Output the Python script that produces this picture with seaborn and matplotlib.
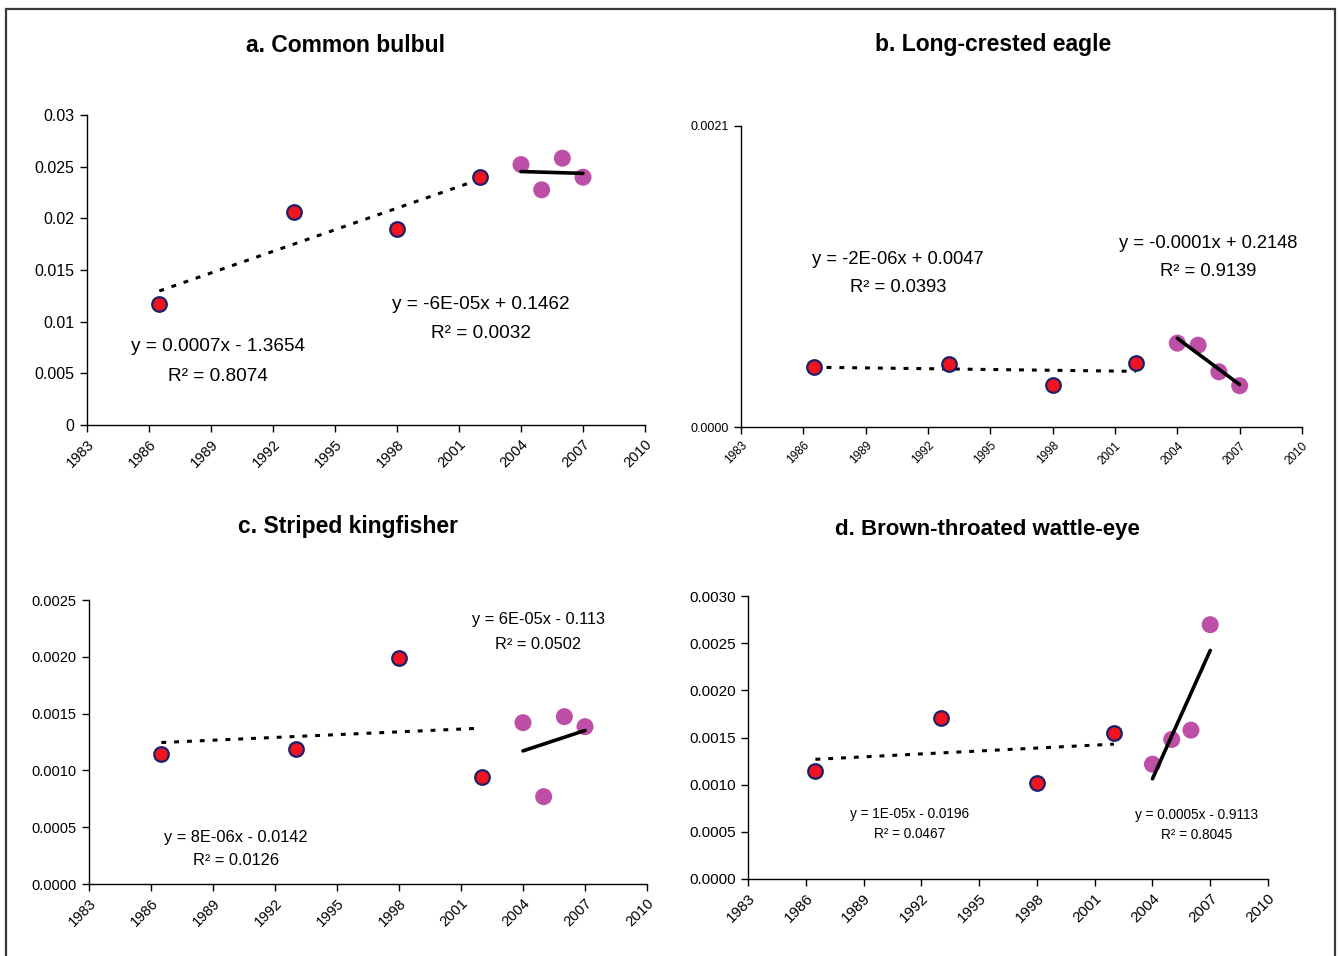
import numpy as np
import pandas as pd
import matplotlib
matplotlib.use("Agg")
import matplotlib.pyplot as plt
import matplotlib.patches as mpatches
import seaborn as sns

# Survey years: early point counts and the recent annual series
years_early = [1986.5, 1993, 1998, 2002]
years_late = [2004, 2005, 2006, 2007]

# Encounter rates per species
bulbul_early = [0.01172, 0.02057, 0.01893, 0.02401]
bulbul_late = [0.02520, 0.02276, 0.02582, 0.02398]
eagle_early = [0.000422, 0.000441, 0.000295, 0.000448]
eagle_late = [0.000585, 0.000571, 0.000385, 0.000288]
kingfisher_early = [0.001144, 0.001185, 0.001987, 0.000939]
kingfisher_late = [0.00142, 0.000769, 0.001473, 0.001385]
wattle_early = [0.001146, 0.001712, 0.001019, 0.001546]
wattle_late = [0.001217, 0.001479, 0.001578, 0.002696]

titles = ["a. Common bulbul", "b. Long-crested eagle",
          "c. Striped kingfisher", "d. Brown-throated wattle-eye"]
equations = [
    [("y = 0.0007x - 1.3654", "R² = 0.8074"), ("y = -6E-05x + 0.1462", "R² = 0.0032")],
    [("y = -2E-06x + 0.0047", "R² = 0.0393"), ("y = -0.0001x + 0.2148", "R² = 0.9139")],
    [("y = 8E-06x - 0.0142", "R² = 0.0126"), ("y = 6E-05x - 0.113", "R² = 0.0502")],
    [("y = 1E-05x - 0.0196", "R² = 0.0467"), ("y = 0.0005x - 0.9113", "R² = 0.8045")],
]
year_ticks = list(range(1983, 2011, 3))

sns.set_style("ticks")
plt.rcParams["font.family"] = ["Liberation Sans", "DejaVu Sans"]
plt.rcParams["text.color"] = "black"
plt.rcParams["axes.labelcolor"] = "black"
plt.rcParams["xtick.color"] = "black"
plt.rcParams["ytick.color"] = "black"

W, H = 1338, 956
fig = plt.figure(figsize=(W / 100, H / 100), dpi=100)

def px_axes(left, right, top, bottom):
    return fig.add_axes([left / W, 1 - bottom / H, (right - left) / W, (bottom - top) / H])

RED = "#F0141E"
NAVY = "#1C1F6B"
PURPLE = "#BD4FA6"

panels = [
    dict(box=(87, 645, 115, 425), early=bulbul_early, late=bulbul_late,
         ylim=(0, 0.03), yticks=np.arange(0, 0.0301, 0.005),
         yfmt=lambda v: f"{v:g}" if v else "0", ytick_fs=11.5, xtick_fs=10.5,
         eq_fs=13.7, eq_pos=[(0.235, 0.252, 0.158), (0.706, 0.390, 0.294)],
         title_xy=(345, 45), title_fs=16.5),
    dict(box=(741, 1302, 126, 427), early=eagle_early, late=eagle_late,
         ylim=(0, 0.0021), yticks=[0, 0.0021],
         yfmt=lambda v: f"{v:.4f}", ytick_fs=9, xtick_fs=8.5,
         eq_fs=13.2, eq_pos=[(0.280, 0.558, 0.465), (0.832, 0.608, 0.518)],
         title_xy=(993, 45), title_fs=16.5),
    dict(box=(89, 647, 600, 884), early=kingfisher_early, late=kingfisher_late,
         ylim=(0, 0.0025), yticks=np.arange(0, 0.00251, 0.0005),
         yfmt=lambda v: f"{v:.4f}", ytick_fs=10.5, xtick_fs=10.5,
         eq_fs=11.8, eq_pos=[(0.263, 0.162, 0.081), (0.805, 0.930, 0.845)],
         title_xy=(348, 526), title_fs=16.5),
    dict(box=(748, 1268, 596, 879), early=wattle_early, late=wattle_late,
         ylim=(0, 0.003), yticks=np.arange(0, 0.00301, 0.0005),
         yfmt=lambda v: f"{v:.4f}", ytick_fs=11, xtick_fs=11,
         eq_fs=9.8, eq_pos=[(0.310, 0.230, 0.159), (0.862, 0.226, 0.155)],
         title_xy=(987, 530), title_fs=16),
]

for i, p in enumerate(panels):
    ax = px_axes(*p["box"])
    early = pd.DataFrame({"year": years_early, "rate": p["early"]})
    late = pd.DataFrame({"year": years_late, "rate": p["late"]})

    # Linear trends for each period
    sns.regplot(data=early, x="year", y="rate", ax=ax, scatter=False, ci=None,
                truncate=True,
                line_kws=dict(color="black", lw=2.2, linestyle=(0, (1.6, 2.6)),
                              dash_capstyle="butt", zorder=2))
    sns.regplot(data=late, x="year", y="rate", ax=ax, scatter=False, ci=None,
                truncate=True,
                line_kws=dict(color="black", lw=2.6, zorder=2))

    # Observations
    sns.scatterplot(data=early, x="year", y="rate", ax=ax, s=110, color=RED,
                    edgecolor=NAVY, linewidth=1.6, zorder=3)
    sns.scatterplot(data=late, x="year", y="rate", ax=ax, s=150, color=PURPLE,
                    edgecolor="none", linewidth=0, zorder=1)

    ax.set_xlim(1983, 2010)
    ax.set_ylim(*p["ylim"])
    ax.set_xticks(year_ticks)
    ax.set_xticklabels([str(y) for y in year_ticks], rotation=45, ha="right",
                       rotation_mode="anchor", fontsize=p["xtick_fs"])
    ax.set_yticks(p["yticks"])
    ax.set_yticklabels([p["yfmt"](v) for v in p["yticks"]], fontsize=p["ytick_fs"])
    ax.set_xlabel("")
    ax.set_ylabel("")
    ax.tick_params(axis="both", direction="out", length=5, width=1, color="black",
                   labelcolor="black", pad=4)
    sns.despine(ax=ax)
    for side in ("left", "bottom"):
        ax.spines[side].set_color("black")
        ax.spines[side].set_linewidth(1)
    ax.patch.set_alpha(0)

    for (eq, r2), (x, y1, y2) in zip(equations[i], p["eq_pos"]):
        ax.text(x, y1, eq, transform=ax.transAxes, ha="center", va="center",
                fontsize=p["eq_fs"], color="black")
        ax.text(x, y2, r2, transform=ax.transAxes, ha="center", va="center",
                fontsize=p["eq_fs"], color="black")

    tx, ty = p["title_xy"]
    fig.text(tx / W, 1 - ty / H, titles[i], ha="center", va="center",
             fontsize=p["title_fs"], fontweight="bold", color="black")

# Outer frame
frame = mpatches.Rectangle((6 / W, -0.02), (1335 - 6) / W, 1 - 9 / H + 0.02,
                           transform=fig.transFigure, fill=False,
                           edgecolor="#3a3a3a", lw=1.6, zorder=10)
fig.patches.append(frame)

fig.savefig("out.png", dpi=100, facecolor="white")
